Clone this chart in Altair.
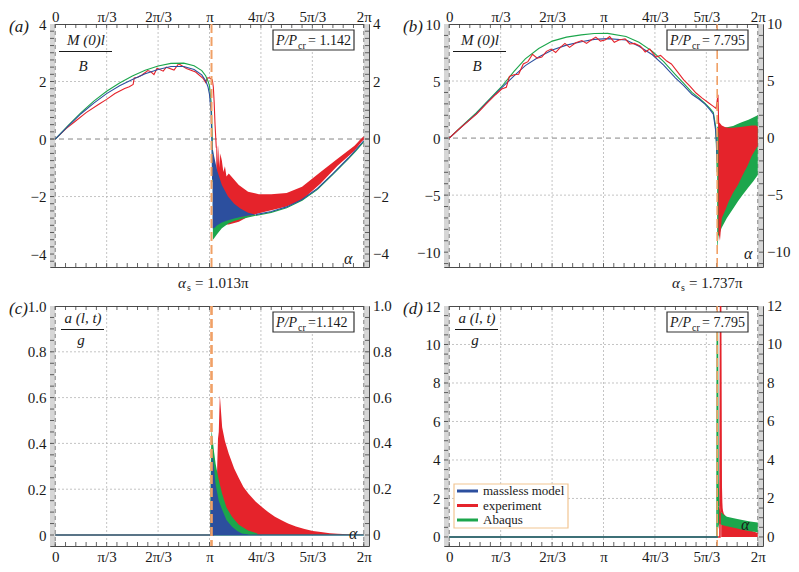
import altair as alt
import pandas as pd

FONT = "Liberation Serif"
TXT = "#1a1a1a"
SERIES = ["massless model", "experiment", "Abaqus"]
COLORS = ["#2c4f9e", "#e5232b", "#1ca64c"]
ORANGE = "#f0a066"

# x positions in units of pi
X_MAJOR = [0, 1/3, 2/3, 1, 4/3, 5/3, 2]
X_LABELS = ["0", "π/3", "2π/3", "π", "4π/3", "5π/3", "2π"]
X_GRID = [1/3, 2/3, 1, 4/3, 5/3]
X_EDGES = [0, 2]
X_MINOR = [i / 15 for i in range(31)]
BAND_X0 = [-0.034, 2.0]
BAND_X1 = [0.0, 2.034]
XDOM = [-0.034, 2.034]

# ---------------- panel (a): M(0)l/B, P/Pcr = 1.142 ----------------
A_BLUE_T = [0, 0.083, 0.167, 0.25, 0.333, 0.417, 0.5, 0.583, 0.667, 0.75, 0.833, 0.9, 0.95, 0.975, 0.99, 1.0, 1.01, 1.016, 1.02]
A_BLUE_V = [0, 0.45, 0.88, 1.25, 1.58, 1.85, 2.07, 2.27, 2.42, 2.52, 2.52, 2.42, 2.23, 2.03, 1.82, 1.55, 0.95, -0.2, -1.4]
A_BLUE_BAND_T = [1.02, 1.03, 1.05, 1.08, 1.12, 1.16, 1.2, 1.25, 1.3]
A_BLUE_BAND_LO = [-3.1, -3.1, -3.0, -2.9, -2.82, -2.76, -2.71, -2.66, -2.63]
A_BLUE_BAND_HI = [-0.3, -0.6, -1.1, -1.6, -2.0, -2.25, -2.42, -2.56, -2.63]
A_BLUE_TAIL_T = [1.3, 1.4, 1.5, 1.6, 1.7, 1.8, 1.9, 1.95, 2.0]
A_BLUE_TAIL_V = [-2.63, -2.52, -2.36, -2.1, -1.72, -1.2, -0.66, -0.37, -0.06]

A_GREEN_T = [0, 0.083, 0.167, 0.25, 0.333, 0.417, 0.5, 0.583, 0.667, 0.75, 0.833, 0.9, 0.95, 0.975, 0.99, 1.0, 1.012, 1.018, 1.022]
A_GREEN_V = [0, 0.47, 0.92, 1.32, 1.66, 1.95, 2.19, 2.39, 2.54, 2.63, 2.64, 2.55, 2.38, 2.2, 2.02, 1.85, 1.2, 0.0, -1.5]
A_GREEN_BAND_T = [1.022, 1.03, 1.05, 1.08, 1.12, 1.16, 1.2, 1.25, 1.3]
A_GREEN_BAND_LO = [-3.5, -3.45, -3.3, -3.1, -2.95, -2.85, -2.79, -2.73, -2.67]
A_GREEN_BAND_HI = [-1.5, -2.0, -2.4, -2.6, -2.7, -2.72, -2.7, -2.66, -2.63]
A_GREEN_TAIL_T = [1.3, 1.4, 1.5, 1.6, 1.7, 1.8, 1.9, 1.95, 2.0]
A_GREEN_TAIL_V = [-2.66, -2.55, -2.39, -2.13, -1.75, -1.23, -0.69, -0.4, -0.09]

A_RED_T = [0, 0.07, 0.13, 0.2, 0.28, 0.333, 0.387, 0.45, 0.48, 0.505, 0.512, 0.535, 0.56, 0.6, 0.62, 0.64,
           0.66, 0.7, 0.72, 0.77, 0.8, 0.85, 0.91, 0.96, 0.975, 0.985, 1.0, 1.018, 1.025, 1.03, 1.036, 1.044]
A_RED_V = [0, 0.36, 0.62, 0.92, 1.2, 1.38, 1.58, 1.76, 1.82, 1.9, 2.12, 2.15, 2.22, 2.38, 2.34, 2.24,
           2.46, 2.36, 2.5, 2.4, 2.62, 2.45, 2.33, 2.1, 1.97, 2.12, 2.13, 2.06, 1.8, 1.3, 0.5, -0.3]
A_RED_BAND_T = [1.044, 1.05, 1.055, 1.06, 1.065, 1.07, 1.08, 1.09, 1.1, 1.11, 1.125, 1.19, 1.25, 1.32, 1.4,
                1.5, 1.6, 1.72, 1.83, 1.94, 1.99, 2.0]
A_RED_BAND_HI = [-0.3, -0.25, -0.9, -0.2, -1.0, -0.5, -0.75, -1.15, -0.95, -1.3, -1.2, -1.6, -1.83, -1.92, -1.92,
                 -1.88, -1.66, -1.15, -0.69, -0.23, 0.05, 0.08]
A_RED_BAND_LO = [-1.0, -1.8, -2.3, -2.6, -2.8, -2.9, -2.9, -2.95, -2.97, -2.97, -2.97, -2.88, -2.7, -2.58, -2.48,
                 -2.35, -2.12, -1.55, -0.93, -0.41, -0.07, -0.03]

# ---------------- panel (b): M(0)l/B, P/Pcr = 7.795 ----------------
B_T = [0, 0.085, 0.173, 0.25, 0.339, 0.42, 0.493, 0.58, 0.668, 0.76, 0.856, 0.94, 1.027, 1.146,
       1.23, 1.317, 1.39, 1.466, 1.52, 1.573, 1.62, 1.658, 1.69, 1.712, 1.727, 1.733, 1.737]
B_BLUE_V = [0, 1.05, 2.1, 3.2, 4.4, 5.45, 6.35, 7.1, 7.72, 8.15, 8.45, 8.65, 8.72, 8.6,
            8.05, 7.3, 6.4, 5.28, 4.6, 3.84, 3.4, 2.97, 2.5, 2.1, 0.67, -0.5, -2.0]
B_GREEN_V = [0, 1.08, 2.18, 3.25, 4.5, 5.85, 6.95, 7.85, 8.5, 8.85, 9.05, 9.17, 9.18, 8.9,
             8.4, 7.6, 6.7, 5.57, 4.8, 4.0, 3.5, 3.03, 2.6, 2.25, 1.0, -1.0, -3.0]
B_RED_T = [0, 0.06, 0.12, 0.18, 0.24, 0.3, 0.34, 0.37, 0.39, 0.42, 0.45, 0.48, 0.51, 0.54, 0.57, 0.6, 0.63,
           0.66, 0.69, 0.72, 0.75, 0.78, 0.82, 0.86, 0.89, 0.92, 0.95, 0.98, 1.01, 1.04, 1.07, 1.1, 1.14,
           1.17, 1.2, 1.24, 1.27, 1.3, 1.34, 1.37, 1.41, 1.44, 1.48, 1.52, 1.56, 1.6, 1.64, 1.68, 1.71,
           1.73, 1.742, 1.748]
B_RED_V = [0, 0.75, 1.45, 2.15, 3.0, 3.8, 4.3, 4.45, 5.4, 5.55, 5.6, 6.5, 6.7, 7.35, 7.0, 7.1, 7.6,
           7.8, 7.5, 7.95, 8.3, 7.95, 8.35, 8.55, 8.3, 8.6, 8.85, 8.5, 8.6, 8.9, 8.4, 8.6, 8.7,
           8.25, 8.3, 8.05, 7.55, 7.8, 7.1, 7.25, 6.75, 6.5, 5.8, 5.1, 4.55, 3.95, 3.5, 3.1, 2.8,
           2.6, 3.8, 0.5]
B_RED_BAND_T = [1.745, 1.755, 1.767, 1.79, 1.81, 1.84, 1.872, 1.9, 1.936, 1.96, 1.989, 2.0]
B_RED_BAND_HI = [1.4, 1.3, 1.1, 0.95, 0.9, 0.9, 0.95, 1.0, 1.05, 1.1, 1.1, 1.0]
B_RED_BAND_LO = [-8.2, -9.0, -7.0, -6.3, -5.6, -4.8, -4.1, -3.3, -2.37, -1.6, -0.92, -0.7]
B_GREEN_BAND_T = [1.737, 1.745, 1.766, 1.8, 1.84, 1.872, 1.9, 1.94, 1.97, 2.0]
B_GREEN_BAND_HI = [1.0, 1.0, 0.95, 0.95, 1.05, 1.25, 1.4, 1.6, 1.8, 2.0]
B_GREEN_BAND_LO = [-10.0, -8.6, -7.85, -7.0, -6.2, -5.54, -5.0, -4.3, -3.8, -3.23]

# ---------------- panel (c): a(l,t)/g, P/Pcr = 1.142 ----------------
C_ZERO_T = [0, 2.0]
C_ZERO_V = [0, 0]
C_RED_T = [0, 1.03]
C_RED_V = [0, 0]
C_BLUE_BAND_T = [1.004, 1.01, 1.016, 1.025, 1.04, 1.06, 1.082, 1.11, 1.146, 1.18, 1.21, 1.25]
C_BLUE_BAND_HI = [0.0, 0.25, 0.36, 0.32, 0.22, 0.15, 0.11, 0.065, 0.036, 0.018, 0.007, 0.002]
C_GREEN_BAND_T = [1.004, 1.008, 1.013, 1.02, 1.03, 1.04, 1.06, 1.082, 1.11, 1.146, 1.19, 1.25, 1.31]
C_GREEN_BAND_HI = [0.0, 0.3, 0.46, 0.42, 0.36, 0.31, 0.24, 0.18, 0.12, 0.08, 0.045, 0.02, 0.007]
C_RED_BAND_T = [1.03, 1.04, 1.05, 1.055, 1.06, 1.067, 1.082, 1.1, 1.125, 1.16, 1.189, 1.22, 1.253, 1.3,
                1.338, 1.38, 1.424, 1.47, 1.509, 1.56, 1.616, 1.67, 1.722, 1.78, 1.829, 1.9, 2.0]
C_RED_BAND_HI = [0.0, 0.02, 0.3, 0.42, 0.45, 0.61, 0.47, 0.41, 0.355, 0.29, 0.25, 0.21, 0.18, 0.145,
                 0.123, 0.1, 0.08, 0.063, 0.05, 0.037, 0.026, 0.018, 0.013, 0.008, 0.005, 0.003, 0.002]

# ---------------- panel (d): a(l,t)/g, P/Pcr = 7.795 ----------------
D_BLUE_T = [0, 1.74]
D_BLUE_V = [0, 0]
D_GREEN_T = [0, 1.736, 1.738, 1.742, 1.746]
D_GREEN_V = [0, 0, 11.5, 3.0, 1.6]
D_RED_T = [0, 1.755, 1.759, 1.763, 1.767]
D_RED_V = [0, 0, 12.0, 2.6, 1.3]
D_GREEN_BAND_T = [1.742, 1.75, 1.76, 1.78, 1.8, 1.83, 1.86, 1.9, 1.95, 2.0]
D_GREEN_BAND_HI = [1.7, 1.5, 1.3, 1.15, 1.05, 1.0, 0.95, 0.88, 0.8, 0.75]
D_GREEN_BAND_LO = [0.4, 0.7, 0.65, 0.6, 0.55, 0.5, 0.45, 0.38, 0.3, 0.25]
D_RED_BAND_T = [1.763, 1.77, 1.78, 1.8, 1.83, 1.87, 1.9, 1.95, 2.0]
D_RED_BAND_HI = [2.6, 1.5, 1.2, 1.0, 0.8, 0.62, 0.5, 0.35, 0.2]

# ---------------- axis settings ----------------
A_YVALS = [-4, -2, 0, 2, 4]
A_YLABS = ["−4", "−2", "0", "2", "4"]
A_YGRID = [-2, 2]
A_YMINOR = [-4.25, -4, -3.75, -3.5, -3.25, -3, -2.75, -2.5, -2.25, -2, -1.75, -1.5, -1.25, -1, -0.75, -0.5, -0.25,
            0, 0.25, 0.5, 0.75, 1, 1.25, 1.5, 1.75, 2, 2.25, 2.5, 2.75, 3, 3.25, 3.5, 3.75]
B_YVALS = [-10, -5, 0, 5, 10]
B_YLABS = ["−10", "−5", "0", "5", "10"]
B_YGRID = [-5, 5]
B_YMINOR = [-11, -10, -9, -8, -7, -6, -5, -4, -3, -2, -1, 0, 1, 2, 3, 4, 5, 6, 7, 8, 9]
C_YVALS = [0, 0.2, 0.4, 0.6, 0.8, 1.0]
C_YLABS = ["0", "0.2", "0.4", "0.6", "0.8", "1.0"]
C_YGRID = [0.2, 0.4, 0.6, 0.8]
C_YMINOR = [0, 0.05, 0.1, 0.15, 0.2, 0.25, 0.3, 0.35, 0.4, 0.45, 0.5, 0.55, 0.6, 0.65, 0.7, 0.75, 0.8, 0.85, 0.9, 0.95]
D_YVALS = [0, 2, 4, 6, 8, 10, 12]
D_YLABS = ["0", "2", "4", "6", "8", "10", "12"]
D_YGRID = [2, 4, 6, 8, 10]
D_YMINOR = [0, 0.5, 1, 1.5, 2, 2.5, 3, 3.5, 4, 4.5, 5, 5.5, 6, 6.5, 7, 7.5, 8, 8.5, 9, 9.5, 10, 10.5, 11, 11.5]

W = 319
H_TOP = 243
H_BOT = 240

XEXPR = " : ".join(f"abs(datum.value - {v:.6f}) < 0.001 ? '{lab}'" for v, lab in zip(X_MAJOR, X_LABELS)) + " : ''"


def line(t, v, ci, width=1.1):
    return ("line", t, v, ci, width)


def band(t, lo, hi, ci):
    return ("band", t, lo, hi, ci)


def build_panel(p):
    H = p["H"]
    xs = alt.Scale(domain=XDOM, nice=False, zero=False)
    ys = alt.Scale(domain=p["ydom"], nice=False, zero=False)
    one = pd.DataFrame({"k": [0]})

    ax_common = dict(ticks=False, tickSize=0, domain=False, grid=False, labelFont=FONT, labelFontSize=15,
                     labelColor=TXT, title=None, labelFlush=False, labelOverlap=False)
    xaxis = alt.Axis(orient=p["xorient"], values=X_MAJOR, labelExpr=XEXPR, labelPadding=p["xpad"], **ax_common)
    ykw = dict(values=p["yvals"], labelPadding=4, **ax_common)
    if p.get("yexpr"):
        ykw["labelExpr"] = p["yexpr"]
    yleft = alt.Axis(orient="left", **ykw)

    def X(field="t"):
        return alt.X(f"{field}:Q", scale=xs, axis=xaxis)

    def Y(field="v"):
        return alt.Y(f"{field}:Q", scale=ys, axis=yleft)

    def txt(s, x, y, size=15, style="normal", align="left", baseline="alphabetic", color=TXT):
        return alt.Chart(one).mark_text(text=s, font=FONT, fontSize=size, fontStyle=style, align=align,
                                        baseline=baseline, color=color).encode(x=alt.value(x), y=alt.value(y))

    def hrule(x1, x2, y, color=TXT, width=1.0):
        return alt.Chart(one).mark_rule(color=color, strokeWidth=width).encode(
            x=alt.value(x1), x2=alt.value(x2), y=alt.value(y))

    L = []
    L.append(alt.Chart(pd.DataFrame({"x0": BAND_X0, "x1": BAND_X1})).mark_rect(color="#d6d6d6").encode(
        x=X("x0"), x2="x1:Q", y=alt.value(0), y2=alt.value(H)))
    L.append(alt.Chart(pd.DataFrame({"t": X_GRID})).mark_rule(color="#b5b5b5", strokeDash=[2, 2], strokeWidth=0.8).encode(
        x=X("t"), y=alt.value(0), y2=alt.value(H)))
    L.append(alt.Chart(pd.DataFrame({"v": p["ygrid"]})).mark_rule(color="#b5b5b5", strokeDash=[2, 2], strokeWidth=0.8).encode(
        y=Y("v"), x=alt.value(0), x2=alt.value(W)))
    L.append(alt.Chart(pd.DataFrame({"t": X_EDGES})).mark_rule(color="#777777", strokeDash=[4, 3], strokeWidth=0.9).encode(
        x=X("t"), y=alt.value(0), y2=alt.value(H)))
    if p["zero"]:
        L.append(alt.Chart(pd.DataFrame({"v": [0]})).mark_rule(color="#777777", strokeDash=[5, 4], strokeWidth=0.9).encode(
            y=Y("v"), x=alt.value(0), x2=alt.value(W)))
    TK = "#3c3c3c"
    L.append(alt.Chart(pd.DataFrame({"t": X_MINOR})).mark_rule(color=TK, strokeWidth=0.8).encode(
        x=X("t"), y=alt.value(0), y2=alt.value(4)))
    L.append(alt.Chart(pd.DataFrame({"t": X_MINOR})).mark_rule(color=TK, strokeWidth=0.8).encode(
        x=X("t"), y=alt.value(H - 4), y2=alt.value(H)))
    L.append(alt.Chart(pd.DataFrame({"v": p["yminor"]})).mark_rule(color=TK, strokeWidth=0.8).encode(
        y=Y("v"), x=alt.value(0), x2=alt.value(4)))
    L.append(alt.Chart(pd.DataFrame({"v": p["yminor"]})).mark_rule(color=TK, strokeWidth=0.8).encode(
        y=Y("v"), x=alt.value(W - 4), x2=alt.value(W)))
    # right-hand tick labels (mirror of the left axis)
    L.append(alt.Chart(pd.DataFrame({"v": p["yvals"], "lab": p["ylabs"]})).mark_text(
        font=FONT, fontSize=15, color=TXT, align="left", baseline="middle").encode(
        y=Y("v"), x=alt.value(W + 4), text="lab:N"))

    for item in p["data"]:
        if item[0] == "line":
            _, t, v, ci, wdt = item
            L.append(alt.Chart(pd.DataFrame({"t": t, "v": v, "s": SERIES[ci]})).mark_line(
                color=COLORS[ci], strokeWidth=wdt, clip=True).encode(x=X("t"), y=Y("v")))
        else:
            _, t, lo, hi, ci = item
            if lo is None:
                lo = [0.0 for _ in hi]
            L.append(alt.Chart(pd.DataFrame({"t": t, "lo": lo, "hi": hi, "s": SERIES[ci]})).mark_area(
                color=COLORS[ci], opacity=1, clip=True).encode(x=X("t"), y=Y("lo"), y2="hi:Q"))

    L.append(alt.Chart(pd.DataFrame({"t": [p["alpha_s"]]})).mark_rule(
        color=ORANGE, strokeDash=[9, 4], strokeWidth=p["aw"]).encode(x=X("t"), y=alt.value(0), y2=alt.value(H)))

    L.append(txt(p["plabel"], -41, 3, size=17, style="italic", baseline="middle"))
    f = p["frac"]
    L.append(txt(f["top"], f["tx"], f["ty"], size=15, style="italic", align="center", baseline="middle"))
    L.append(hrule(f["x1"], f["x2"], f["ly"]))
    L.append(txt(f["bot"], f["bx"], f["by"], size=15, style="italic", align="center", baseline="middle"))
    L.append(alt.Chart(one).mark_rect(fill="white", stroke="#333333", strokeWidth=1.2).encode(
        x=alt.value(W - 96), x2=alt.value(W - 15), y=alt.value(6), y2=alt.value(26)))
    L.append(txt("P/P", W - 93, 21, size=14, style="italic"))
    L.append(txt("cr", W - 71, 25, size=10))
    L.append(txt(p["ratio"], W - 61, 21, size=14))
    L.append(txt("α", W - p["alx"], H - p["aly"], size=16, style="italic", baseline="middle"))
    if p.get("as_x") is not None:
        ax0 = p["as_x"]
        L.append(txt("α", ax0, H + 21, size=15, style="italic"))
        L.append(txt("s", ax0 + 9, H + 24, size=10))
        L.append(txt(p["as_text"], ax0 + 17, H + 21, size=15))
    if p.get("legend"):
        L.append(alt.Chart(one).mark_rect(fill="white", stroke="#f2c592", strokeWidth=1.2).encode(
            x=alt.value(10), x2=alt.value(124), y=alt.value(H - 62), y2=alt.value(H - 18)))
        for i, (name, col) in enumerate(zip(SERIES, COLORS)):
            yy = H - 55 + i * 14.5
            L.append(hrule(13, 34, yy, color=col, width=3))
            L.append(txt(name, 39, yy, size=13, baseline="middle"))

    return alt.layer(*L).properties(width=W, height=H)


FRAC_M = dict(top="M (0)l", bot="B", tx=36, ty=16, x1=9, x2=62, ly=27.5, bx=33, by=42)
FRAC_A = dict(top="a (l, t)", bot="g", tx=33, ty=12, x1=11, x2=54, ly=23.5, bx=31, by=34)

pa = build_panel(dict(
    H=H_TOP, ydom=[-4.45, 4], xorient="top", xpad=0, yvals=A_YVALS, ylabs=A_YLABS, ygrid=A_YGRID,
    yminor=A_YMINOR, zero=True,
    data=[band(A_RED_BAND_T, A_RED_BAND_LO, A_RED_BAND_HI, 1), line(A_RED_T, A_RED_V, 1),
          band(A_GREEN_BAND_T, A_GREEN_BAND_LO, A_GREEN_BAND_HI, 2), line(A_GREEN_T, A_GREEN_V, 2),
          line(A_GREEN_TAIL_T, A_GREEN_TAIL_V, 2),
          band(A_BLUE_BAND_T, A_BLUE_BAND_LO, A_BLUE_BAND_HI, 0), line(A_BLUE_T, A_BLUE_V, 0),
          line(A_BLUE_TAIL_T, A_BLUE_TAIL_V, 0)],
    alpha_s=1.013, aw=2, plabel="(a)", frac=FRAC_M, ratio="= 1.142", alx=25, aly=8,
    as_x=128, as_text="= 1.013π"))

pb = build_panel(dict(
    H=H_TOP, ydom=[-11.3, 10], xorient="top", xpad=0, yvals=B_YVALS, ylabs=B_YLABS, ygrid=B_YGRID,
    yminor=B_YMINOR, zero=True,
    data=[band(B_GREEN_BAND_T, B_GREEN_BAND_LO, B_GREEN_BAND_HI, 2), line(B_T, B_GREEN_V, 2),
          line(B_T, B_BLUE_V, 0),
          band(B_RED_BAND_T, B_RED_BAND_LO, B_RED_BAND_HI, 1), line(B_RED_T, B_RED_V, 1)],
    alpha_s=1.737, aw=1.6, plabel="(b)", frac=FRAC_M, ratio="= 7.795", alx=19, aly=13,
    as_x=228, as_text="= 1.737π"))

pc = build_panel(dict(
    H=H_BOT, ydom=[-0.048, 1.0], xorient="bottom", xpad=3, yvals=C_YVALS, ylabs=C_YLABS, ygrid=C_YGRID,
    yminor=C_YMINOR, zero=False, yexpr="datum.value == 0 ? '0' : format(datum.value, '.1f')",
    data=[line(C_RED_T, C_RED_V, 1), band(C_RED_BAND_T, None, C_RED_BAND_HI, 1),
          line(C_ZERO_T, C_ZERO_V, 2), band(C_GREEN_BAND_T, None, C_GREEN_BAND_HI, 2),
          band(C_BLUE_BAND_T, None, C_BLUE_BAND_HI, 0), line(C_ZERO_T, C_ZERO_V, 0)],
    alpha_s=1.013, aw=2.6, plabel="(c)", frac=FRAC_A, ratio="=1.142", alx=20, aly=12))

pdd = build_panel(dict(
    H=H_BOT, ydom=[-0.47, 12], xorient="bottom", xpad=3, yvals=D_YVALS, ylabs=D_YLABS, ygrid=D_YGRID,
    yminor=D_YMINOR, zero=False,
    data=[band(D_RED_BAND_T, None, D_RED_BAND_HI, 1), band(D_GREEN_BAND_T, D_GREEN_BAND_LO, D_GREEN_BAND_HI, 2),
          line(D_RED_T, D_RED_V, 1, 1.6), line(D_GREEN_T, D_GREEN_V, 2, 1.6), line(D_BLUE_T, D_BLUE_V, 0)],
    alpha_s=1.737, aw=1.6, plabel="(d)", frac=FRAC_A, ratio="= 7.795", alx=22, aly=21, legend=True))

chart = alt.concat(pa, pb, pc, pdd, columns=2, spacing={"row": 39, "column": 75}, bounds="flush").properties(
    padding=0).configure_view(stroke="#4a4a4a", strokeWidth=1)

chart.save("out.html", embed_options={"renderer": "svg", "actions": False})
